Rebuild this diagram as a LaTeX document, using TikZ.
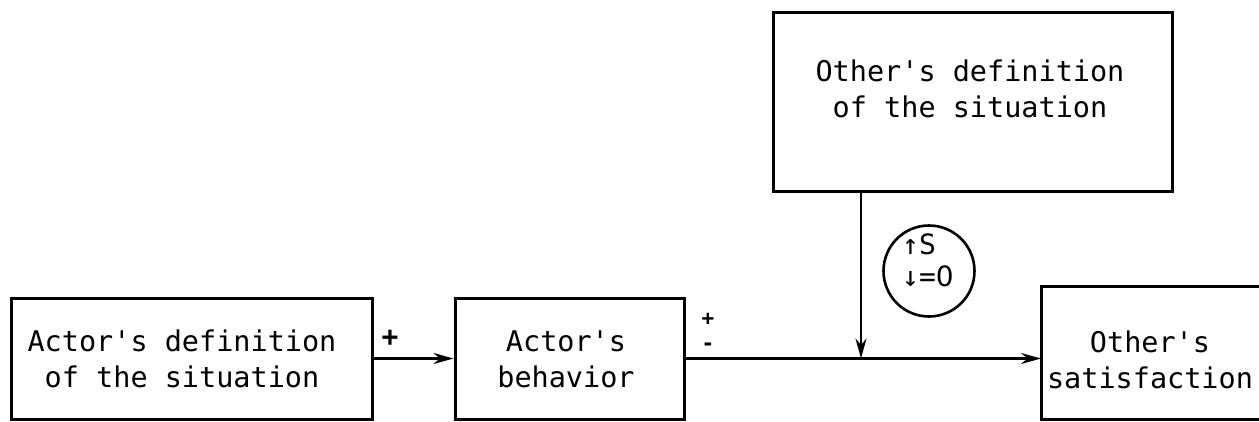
\documentclass[tikz,border=0pt]{standalone}
\usepackage{fontspec}
\newfontfamily\tw{DejaVu Sans Mono}
\newfontfamily\ts{DejaVu Sans}
\usetikzlibrary{arrows.meta}
\begin{document}
\begin{tikzpicture}[x=1pt,y=-1pt,
  box/.style={draw,line width=3pt,inner sep=0pt},
  lbl/.style={font=\tw\fontsize{28.5}{36}\selectfont,align=center,inner sep=0pt},
  sgn/.style={font=\tw\bfseries\fontsize{24}{26}\selectfont,align=center,inner sep=0pt},
  conn/.style={line width=2.4pt,-{Stealth[length=20pt,width=11pt]}}]
\useasboundingbox[fill=white] (0,0) rectangle (1259,421);
% boxes
\node[box,minimum width=361pt,minimum height=121pt] (adef) at (191.5,358.5) {};
\node[box,minimum width=229pt,minimum height=121pt] (abeh) at (569.5,358.5) {};
\node[box,minimum width=399pt,minimum height=179pt] (odef) at (972.5,101.5) {};
\draw[line width=3pt] (1265,286) -| (1041,419) -- (1265,419);
\coordinate (osat) at (1041,358.5);
\coordinate (join) at (861,358.5);
% texts
\node[lbl] (adeft) at (182,359) {Actor's definition\\of the situation};
\node[lbl] (abeht) at (566,359) {Actor's\\behavior};
\node[lbl] (odeft) at (970,89) {Other's definition\\of the situation};
\node[lbl] (osatt) at (1150,360) {Other's\\satisfaction};
% signs
\node[sgn,font=\tw\bfseries\fontsize{28}{30}\selectfont] (p1) at (390,338) {+};
\node[sgn,font=\tw\bfseries\fontsize{21}{25}\selectfont] (pm) at (708,332) {+\\-};
% circle
\node[draw,circle,line width=2.6pt,minimum size=91pt,inner sep=0pt] (sat) at (929,271) {};
\node[font=\tw\fontsize{28}{32}\selectfont,align=left,inner sep=0pt] (satt) at (928,260) {↑S\\↓={\ts 0}};
% connectors
\draw[conn] (adef.east) -- (abeh.west);
\draw[conn] (abeh.east) -- (osat);
\draw[conn] (odef.south -| join) -- (join);
\end{tikzpicture}
\end{document}
